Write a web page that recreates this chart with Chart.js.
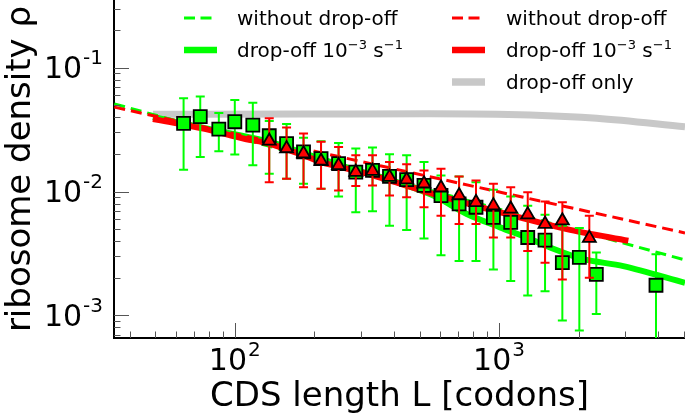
<!DOCTYPE html>
<html><head><meta charset="utf-8">
<script src="https://cdn.jsdelivr.net/npm/chart.js@4.4.1/dist/chart.umd.min.js"></script>
<style>
html,body{margin:0;padding:0;background:#fff;overflow:hidden}
#wrap{position:relative;width:685px;height:418px}
#legend{position:absolute;left:0;top:0;width:685px;height:110px;pointer-events:none;font-family:'DejaVu Sans';font-size:20px;color:#000}
.li{position:absolute;height:30px;line-height:30px;white-space:nowrap}
.li svg{position:absolute;top:0;left:0}
.li span{position:absolute;top:0}
.li sup{font-size:13px;vertical-align:0;position:relative;top:-8px}
</style></head><body>
<div id="wrap"><canvas id="c" width="685" height="418"></canvas><div id="legend"></div></div>
<script>
// ---- data ----
const sqL   = [64, 74, 87, 100, 117, 135, 157, 182, 212, 247, 287, 332, 385, 447, 520, 603, 706, 818, 952, 1107, 1284, 1493, 1736, 2013, 2334, 3926];
const sqRho = [0.0355, 0.0402, 0.0319, 0.0366, 0.0344, 0.0282, 0.0244, 0.0209, 0.01845, 0.0168, 0.01435, 0.0148, 0.01324, 0.01245, 0.01119, 0.00928, 0.00794, 0.00746, 0.00618, 0.00563, 0.00425, 0.00405, 0.00266, 0.00294, 0.00214, 0.00175];
const sqHi  = [0.0567, 0.0584, 0.043, 0.0549, 0.0522, 0.0371, 0.0351, 0.0272, 0.0255, 0.0247, 0.02225, 0.02267, 0.0200, 0.01963, 0.0173, 0.01349, 0.01324, 0.0119, 0.01032, 0.0091, 0.00769, 0.0065, 0.0053, 0.00507, 0.00321, 0.00311];
const sqLo  = [0.0150, 0.0190, 0.0211, 0.0199, 0.01627, 0.01393, 0.01269, 0.01155, 0.01052, 0.0091, 0.00679, 0.00692, 0.0053, 0.00488, 0.00417, 0.00306, 0.00275, 0.00275, 0.00235, 0.00189, 0.001446, 0.001567, 0.00091, 0.000755, 0.001025, 0.0003];

const triL   = [135, 157, 182, 212, 247, 287, 332, 385, 447, 520, 603, 706, 818, 952, 1107, 1284, 1493, 1736, 2196];
const triRho = [0.0256, 0.02225, 0.02025, 0.01763, 0.01627, 0.01435, 0.01462, 0.01307, 0.01245, 0.01155, 0.01072, 0.00928, 0.00818, 0.00769, 0.00723, 0.0065, 0.00546, 0.00581, 0.0042];
const triHi  = [0.039, 0.03295, 0.02945, 0.02517, 0.02292, 0.01963, 0.01963, 0.0173, 0.01658, 0.01481, 0.0153, 0.01324, 0.01229, 0.01155, 0.01084, 0.00987, 0.00829, 0.00818, 0.00638];
const triLo  = [0.0119, 0.01269, 0.01084, 0.01052, 0.01019, 0.01108, 0.01119, 0.00928, 0.00899, 0.00746, 0.00638, 0.00546, 0.00546, 0.00425, 0.00425, 0.00331, 0.00266, 0.00195, 0.00201];

const greenDashL = [35, 5055];
const greenDashRho = [0.051, 0.0028];
const redDashL = [35, 5055];
const redDashRho = [0.048, 0.00463];
const redSolidL = [49, 60.3, 80.6, 107.8, 135, 182, 212, 316, 563, 1009, 1804, 3085];
const redSolidRho = [0.0385, 0.0355, 0.0313, 0.0268, 0.0244, 0.0196, 0.0173, 0.01393, 0.00958, 0.00679, 0.00497, 0.0040];
const greenSolidL = [49, 80.6, 135, 182, 273, 387, 564, 755, 1009, 1273, 1560, 2084, 2953, 5055];
const greenSolidRho = [0.040, 0.0318, 0.0253, 0.0204, 0.01538, 0.0124, 0.00928, 0.00659, 0.00513, 0.00425, 0.00353, 0.00284, 0.0025, 0.00183];
const grayL = [49, 180, 548, 1310, 2343, 5055];
const grayRho = [0.042, 0.0422, 0.0425, 0.0415, 0.039, 0.0333];

const tickBase = '10';
const xMajorTicks = [100, 1000];
const xTickExp = ['2', '3'];
const yMajorTicks = [0.001, 0.01, 0.1];
const yTickExp = ['-3', '-2', '-1'];

const legendLabels = ['without drop-off', 'drop-off 10^{−3} s^{−1}', 'without drop-off', 'drop-off 10^{−3} s^{−1}', 'drop-off only'];

// ---- build ----
const pts = (xs, ys) => xs.map((v, i) => ({x: v, y: ys[i]}));
const GREEN = '#00ff00', RED = '#ff0000', GRAY = '#c8c8c8';
const FONT = "'DejaVu Sans'";

const datasets = [
  {label: 'red data', data: pts(triL, triRho), showLine: false, pointStyle: 'triangle', pointRadius: 7.5,
   backgroundColor: RED, borderColor: '#000', borderWidth: 1.8, errHi: triHi, errLo: triLo, errColor: RED},
  {label: 'green data', data: pts(sqL, sqRho), showLine: false, pointStyle: 'rect', pointRadius: 9.2,
   backgroundColor: GREEN, borderColor: '#000', borderWidth: 1.8, errHi: sqHi, errLo: sqLo, errColor: GREEN},
  {label: legendLabels[3], data: pts(redSolidL, redSolidRho), showLine: true, borderColor: RED, borderWidth: 6, pointRadius: 0, tension: 0.3, legendCol: 1, legendRow: 1},
  {label: legendLabels[2], data: pts(redDashL, redDashRho), showLine: true, borderColor: RED, borderWidth: 3, borderDash: [11, 6], pointRadius: 0, legendCol: 1, legendRow: 0},
  {label: legendLabels[1], data: pts(greenSolidL, greenSolidRho), showLine: true, borderColor: GREEN, borderWidth: 6, pointRadius: 0, tension: 0.3, legendCol: 0, legendRow: 1},
  {label: legendLabels[0], data: pts(greenDashL, greenDashRho), showLine: true, borderColor: GREEN, borderWidth: 3, borderDash: [11, 6], pointRadius: 0, legendCol: 0, legendRow: 0},
  {label: legendLabels[4], data: pts(grayL, grayRho), showLine: true, borderColor: GRAY, borderWidth: 7, pointRadius: 0, cubicInterpolationMode: 'monotone', legendCol: 1, legendRow: 2}
];

const errorBars = {
  id: 'errorBars',
  beforeDatasetDraw(chart, args) {
    const ds = chart.data.datasets[args.index];
    if (!ds.errLo) return;
    const {ctx, chartArea: a, scales: {x, y}} = chart;
    ctx.save();
    ctx.beginPath(); ctx.rect(a.left, a.top, a.right - a.left, a.bottom - a.top); ctx.clip();
    ctx.strokeStyle = ds.errColor; ctx.lineWidth = 2;
    ds.data.forEach((p, i) => {
      const px = x.getPixelForValue(p.x);
      const yh = y.getPixelForValue(ds.errHi[i]);
      const yl = y.getPixelForValue(ds.errLo[i]);
      ctx.beginPath();
      ctx.moveTo(px, yh); ctx.lineTo(px, yl);
      ctx.moveTo(px - 4.5, yh); ctx.lineTo(px + 4.5, yh);
      ctx.moveTo(px - 4.5, yl); ctx.lineTo(px + 4.5, yl);
      ctx.stroke();
    });
    ctx.restore();
  }
};

const tickMarks = {
  id: 'tickMarks',
  afterDraw(chart) {
    const {ctx, chartArea: a, scales: {x, y}} = chart;
    const ticksIn = (min, max) => {
      const out = [];
      for (let e = Math.floor(Math.log10(min)); e <= Math.ceil(Math.log10(max)); e++)
        for (let m = 1; m < 10; m++) { const v = m * Math.pow(10, e); if (v > min * 1.0001 && v < max) out.push([v, m === 1]); }
      return out;
    };
    ctx.save();
    ctx.strokeStyle = '#555'; ctx.lineWidth = 1;
    for (const [v, maj] of ticksIn(x.min, x.max)) {
      const px = Math.round(x.getPixelForValue(v)) + 0.5;
      ctx.beginPath(); ctx.moveTo(px, a.bottom); ctx.lineTo(px, a.bottom - (maj ? 15 : 6.5)); ctx.stroke();
    }
    for (const [v, maj] of ticksIn(y.min, y.max)) {
      const py = Math.round(y.getPixelForValue(v)) + 0.5;
      ctx.beginPath(); ctx.moveTo(a.left, py); ctx.lineTo(a.left + (maj ? 15 : 6.5), py); ctx.stroke();
    }
    // tick labels: "10" with a raised exponent, placed by the scales
    const big = `30px ${FONT}`, small = `20px ${FONT}`;
    const width = (exp) => { ctx.font = big; const w1 = ctx.measureText(tickBase).width; ctx.font = small; return w1 + 1 + ctx.measureText(exp).width; };
    const draw = (exp, left, baseline) => {
      ctx.font = big; ctx.fillText(tickBase, left, baseline);
      const w = ctx.measureText(tickBase).width;
      ctx.font = small; ctx.fillText(exp, left + w + 1, baseline - 14);
    };
    ctx.fillStyle = '#000'; ctx.textAlign = 'left'; ctx.textBaseline = 'alphabetic';
    xMajorTicks.forEach((v, i) => { const px = x.getPixelForValue(v); draw(xTickExp[i], px - width(xTickExp[i]) / 2, a.bottom + 32); });
    yMajorTicks.forEach((v, i) => { const py = y.getPixelForValue(v); draw(yTickExp[i], a.left - 11 - width(yTickExp[i]), py + 10.5); });
    ctx.restore();
  }
};

const chart = new Chart(document.getElementById('c'), {
  type: 'scatter',
  data: {datasets},
  plugins: [errorBars, tickMarks],
  options: {
    responsive: false, animation: false, devicePixelRatio: 1,
    layout: {padding: 0, autoPadding: false},
    plugins: {legend: {display: false}, tooltip: {enabled: false}},
    scales: {
      x: {
        type: 'logarithmic', position: 'bottom', min: 34.9, max: 5055,
        afterBuildTicks: s => { s.ticks = xMajorTicks.map(v => ({value: v})); },
        afterFit: s => { s.height = 80; s.paddingLeft = 0; s.paddingRight = 0; },
        grid: {display: false, drawTicks: false},
        border: {display: true, color: '#000', width: 2},
        ticks: {display: false},
        title: {display: true, text: 'CDS length L [codons]', color: '#000', font: {family: FONT, size: 34}, padding: {top: 0, bottom: 0}}
      },
      y: {
        type: 'logarithmic', position: 'left', min: 0.000656, max: 0.352,
        afterBuildTicks: s => { s.ticks = yMajorTicks.map(v => ({value: v})); },
        afterFit: s => { s.width = 114; s.paddingTop = 0; s.paddingBottom = 0; },
        grid: {display: false, drawTicks: false},
        border: {display: true, color: '#000', width: 2},
        ticks: {display: false},
        title: {display: true, text: 'ribosome density ρ', color: '#000', font: {family: FONT, size: 34}, padding: {top: 1, bottom: 0}}
      }
    }
  }
});

// ---- HTML legend built from the chart's datasets ----
const legendEl = document.getElementById('legend');
const colX = [[184, 237], [452, 506]];
const rowY = [17.5, 49.5, 82];
chart.data.datasets.forEach(ds => {
  if (ds.legendCol === undefined) return;
  const [hx, tx] = colX[ds.legendCol];
  const item = document.createElement('div');
  item.className = 'li';
  item.style.left = hx + 'px';
  item.style.top = (rowY[ds.legendRow] - 15) + 'px';
  const dash = ds.borderDash ? `stroke-dasharray="${ds.borderDash[0]} ${ds.borderDash[1] - 0.5}"` : '';
  const lw = ds.borderDash ? 3 : ds.borderWidth + 0.5;
  item.innerHTML = `<svg width="34" height="30"><line x1="0" y1="15" x2="33" y2="15" stroke="${ds.borderColor}" stroke-width="${lw}" ${dash}/></svg>` +
    `<span style="left:${tx - hx}px">${ds.label.replace(/\^\{([^}]*)\}/g, '<sup>$1</sup>')}</span>`;
  legendEl.appendChild(item);
});
</script></body></html>
